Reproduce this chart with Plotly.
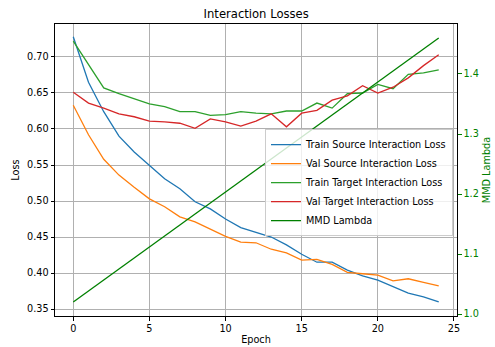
import plotly.graph_objects as go

epochs = list(range(25))
train_source = [0.728, 0.665, 0.624, 0.590, 0.568, 0.549, 0.531, 0.517, 0.499, 0.489,
                0.475, 0.463, 0.457, 0.450, 0.439, 0.426, 0.415, 0.415, 0.404, 0.396,
                0.390, 0.381, 0.372, 0.367, 0.360]
val_source = [0.633, 0.592, 0.558, 0.536, 0.519, 0.503, 0.492, 0.478, 0.471, 0.461,
              0.451, 0.443, 0.442, 0.433, 0.428, 0.418, 0.419, 0.412, 0.401, 0.399,
              0.397, 0.389, 0.392, 0.387, 0.382]
train_target = [0.722, 0.689, 0.657, 0.649, 0.642, 0.635, 0.631, 0.624, 0.624, 0.619,
                0.620, 0.624, 0.622, 0.621, 0.625, 0.625, 0.636, 0.629, 0.649, 0.650,
                0.662, 0.656, 0.676, 0.678, 0.682]
val_target = [0.651, 0.636, 0.629, 0.621, 0.617, 0.611, 0.610, 0.608, 0.601, 0.614,
              0.610, 0.604, 0.611, 0.621, 0.603, 0.622, 0.626, 0.640, 0.646, 0.660,
              0.650, 0.658, 0.671, 0.688, 0.703]
mmd_lambda = [1.0200, 1.0383, 1.0567, 1.0750, 1.0933, 1.1117, 1.1300, 1.1483, 1.1667, 1.1850,
              1.2033, 1.2217, 1.2400, 1.2583, 1.2767, 1.2950, 1.3133, 1.3317, 1.3500, 1.3683,
              1.3867, 1.4050, 1.4233, 1.4417, 1.4600]

loss_ticks = [0.35, 0.40, 0.45, 0.50, 0.55, 0.60, 0.65, 0.70]
lambda_ticks = [1.0, 1.1, 1.2, 1.3, 1.4]
epoch_ticks = [0, 5, 10, 15, 20, 25]

FONT = "DejaVu Sans"
FS = 9.7
LW = 1.3

fig = go.Figure()
fig.add_trace(go.Scatter(x=epochs, y=train_source, mode="lines", name="Train Source Interaction Loss",
                         line=dict(color="#1f77b4", width=LW)))
fig.add_trace(go.Scatter(x=epochs, y=val_source, mode="lines", name="Val Source Interaction Loss",
                         line=dict(color="#ff7f0e", width=LW)))
fig.add_trace(go.Scatter(x=epochs, y=train_target, mode="lines", name="Train Target Interaction Loss",
                         line=dict(color="#2ca02c", width=LW)))
fig.add_trace(go.Scatter(x=epochs, y=val_target, mode="lines", name="Val Target Interaction Loss",
                         line=dict(color="#d62728", width=LW)))
fig.add_trace(go.Scatter(x=epochs, y=mmd_lambda, mode="lines", name="MMD Lambda",
                         line=dict(color="#008000", width=LW), yaxis="y2"))

fig.update_layout(
    width=495, height=347,
    margin=dict(l=55, r=38, t=24, b=31, autoexpand=False),
    paper_bgcolor="white", plot_bgcolor="white",
    font=dict(family=FONT, size=FS, color="black"),
    title=dict(text="Interaction Losses", x=0.5175, xanchor="center", y=1 - 14 / 347, yanchor="middle",
               font=dict(size=11.6, color="black")),
    showlegend=True,
    legend=dict(x=0.99, xanchor="right", y=0.64, yanchor="top",
                bgcolor="rgba(255,255,255,0.8)", bordercolor="#cccccc", borderwidth=1,
                font=dict(size=FS), itemwidth=30, tracegroupgap=0),
    xaxis=dict(range=[-1.2, 25.2], tickvals=epoch_ticks, ticks="outside", ticklen=3.5, tickcolor="black",
               showgrid=True, gridcolor="#b0b0b0", gridwidth=0.8, zeroline=False, automargin=False,
               showline=True, linecolor="black", linewidth=1, mirror=True,
               title=dict(text="Epoch", standoff=3, font=dict(size=FS))),
    yaxis=dict(range=[0.3403, 0.7458], tickvals=loss_ticks, tickformat=".2f", ticks="outside", ticklen=3.5,
               tickcolor="black", showgrid=True, gridcolor="#b0b0b0", gridwidth=0.8, zeroline=False,
               showline=True, linecolor="black", linewidth=1, mirror=True, automargin=False,
               title=dict(text="Loss", standoff=5, font=dict(size=FS))),
    yaxis2=dict(range=[0.9967, 1.4833], tickvals=lambda_ticks, tickformat=".1f", overlaying="y", side="right",
                ticks="outside", ticklen=3.5, tickcolor="#008000", tickfont=dict(color="#008000"),
                showgrid=False, zeroline=False, showline=True, linecolor="black", linewidth=1, automargin=False,
                title=dict(text="MMD Lambda", standoff=5, font=dict(size=FS, color="#008000"))),
)

fig.write_html("out.html", config={"displayModeBar": False},
               post_script="document.body.style.margin='0';")
